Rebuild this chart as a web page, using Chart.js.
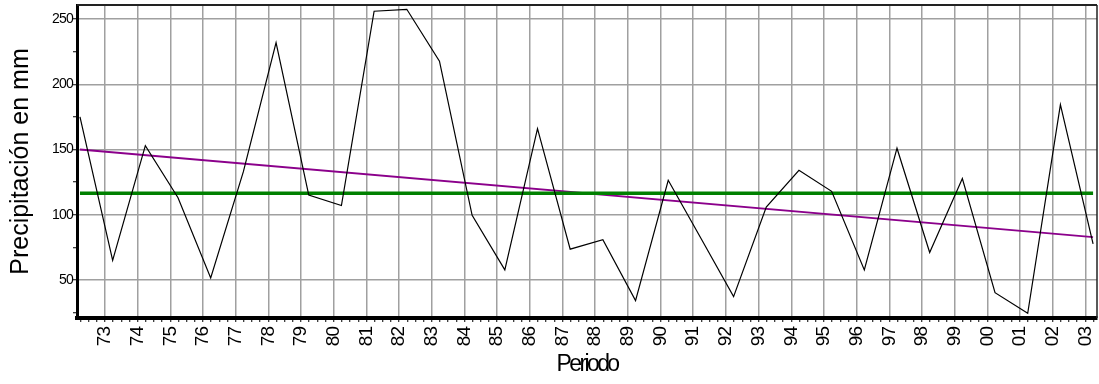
<!DOCTYPE html>
<html><head><meta charset="utf-8">
<script src="https://cdn.jsdelivr.net/npm/chart.js@4.4.1/dist/chart.umd.min.js"></script>
<style>html,body{margin:0;padding:0;background:#fff;}#wrap{width:1099px;height:384px;}</style>
</head><body><div id="wrap"><canvas id="c" width="1099" height="384"></canvas></div>
<script>
// ---- data ----
const years = [1972,1973,1974,1975,1976,1977,1978,1979,1980,1981,1982,1983,1984,1985,1986,1987,1988,1989,1990,1991,1992,1993,1994,1995,1996,1997,1998,1999,2000,2001,2002,2003];
const precipitation = [175,65,153,113,51.5,133,232,115,107,256,257.5,217.7,99.5,57.7,166,73.6,80.8,34.1,126.4,82,37.2,105.9,134,117.9,57.7,151,71,127.7,40.2,24.4,184.4,77.7];
const meanValue = 116.4;
const trendValues = [150, 82.8]; // regression line at first and last year
const xTickYears = [1973,1974,1975,1976,1977,1978,1979,1980,1981,1982,1983,1984,1985,1986,1987,1988,1989,1990,1991,1992,1993,1994,1995,1996,1997,1998,1999,2000,2001,2002,2003];
const xTickLabels = ['73','74','75','76','77','78','79','80','81','82','83','84','85','86','87','88','89','90','91','92','93','94','95','96','97','98','99','00','01','02','03'];
const yTickValues = [50,100,150,200,250];
const yTickLabels = ['50','100','150','200','250'];

// ---- layout constants ----
const pointOffset = 0.235;
const xMin = 1972.144, xMax = 2003.355;
const yMin = 20.8, yMax = 260.8;

Chart.defaults.font.family = "'Liberation Sans', Arial, sans-serif";
Chart.defaults.color = '#000';

const mainData = years.map((y, i) => ({x: y + pointOffset, y: precipitation[i]}));
const first = years[0] + pointOffset, last = years[years.length - 1] + pointOffset;
const meanData = [{x: first, y: meanValue}, {x: last, y: meanValue}];
const trendData = [{x: first, y: trendValues[0]}, {x: last, y: trendValues[1]}];

function spaced(fn, spacing) {
  return function (...args) {
    const ctx = this.ctx;
    ctx.save();
    ctx.letterSpacing = spacing;
    fn.apply(this, args);
    ctx.restore();
  };
}

const framePlugin = {
  id: 'frame',
  afterLayout(chart) {
    const x = chart.scales.x, y = chart.scales.y;
    if (!x._spaced) {
      const px = Object.getPrototypeOf(x);
      x.drawTitle = spaced(px.drawTitle, '-2.6px');
      x.drawLabels = spaced(px.drawLabels, '-1px');
      x._spaced = true;
    }
    if (!y._spaced) {
      const py = Object.getPrototypeOf(y);
      y.drawLabels = spaced(py.drawLabels, '-0.8px');
      y._spaced = true;
    }
  },
  afterDraw(chart) {
    const {ctx, chartArea: a} = chart;
    ctx.save();
    ctx.strokeStyle = '#222';
    ctx.lineWidth = 2;
    ctx.beginPath(); ctx.moveTo(a.left, a.top); ctx.lineTo(a.right, a.top); ctx.stroke();
    ctx.lineWidth = 1.5;
    ctx.beginPath(); ctx.moveTo(a.right, a.top); ctx.lineTo(a.right, a.bottom); ctx.stroke();
    ctx.restore();
  }
};

new Chart(document.getElementById('c'), {
  type: 'line',
  data: {
    datasets: [
      {data: mainData, borderColor: '#000', borderWidth: 1.2, pointRadius: 0, tension: 0},
      {data: meanData, borderColor: '#008000', borderWidth: 3.5, pointRadius: 0},
      {data: trendData, borderColor: '#8B008B', borderWidth: 1.8, pointRadius: 0}
    ]
  },
  options: {
    responsive: false,
    animation: false,
    layout: {padding: {top: 5, right: 2, left: 0, bottom: 0}},
    plugins: {legend: {display: false}, tooltip: {enabled: false}},
    scales: {
      x: {
        type: 'linear', min: xMin, max: xMax,
        afterBuildTicks(s) {
          const t = [];
          for (let q = Math.ceil(xMin * 4); q <= Math.floor(xMax * 4); q++) t.push({value: q / 4});
          s.ticks = t;
        },
        afterFit(s) { s.height = 66; s.paddingLeft = 0; s.paddingRight = 0; },
        ticks: {
          autoSkip: false, minRotation: 90, maxRotation: 90, padding: 5,
          font: {size: 19},
          callback(v) { const i = xTickYears.indexOf(v); return i >= 0 ? xTickLabels[i] : ''; }
        },
        grid: {
          color: c => (c.tick && xTickYears.includes(c.tick.value)) ? '#a0a0a0' : 'rgba(0,0,0,0)',
          lineWidth: 1.5, tickColor: '#000', tickLength: 4, tickWidth: 1
        },
        border: {display: true, color: '#000', width: 4},
        title: {display: true, text: 'Periodo', font: {size: 23}, padding: {top: 0, bottom: 6}}
      },
      y: {
        type: 'linear', min: yMin, max: yMax,
        afterBuildTicks(s) {
          const t = [];
          for (let v = 25; v <= 250; v += 12.5) t.push({value: v});
          s.ticks = t;
        },
        afterFit(s) { s.width = 77; s.paddingTop = 0; s.paddingBottom = 0; },
        ticks: {
          padding: 0, font: {size: 14},
          callback(v) { const i = yTickValues.indexOf(v); return i >= 0 ? yTickLabels[i] : ''; }
        },
        grid: {
          color: c => (c.tick && yTickValues.includes(c.tick.value)) ? '#a0a0a0' : 'rgba(0,0,0,0)',
          lineWidth: 1.5, tickColor: '#000', tickLength: 4, tickWidth: 1
        },
        border: {display: true, color: '#000', width: 3},
        title: {display: true, text: 'Precipitación en mm', font: {size: 25}, padding: {top: 6, bottom: 0}}
      }
    }
  },
  plugins: [framePlugin]
});
</script>
</body></html>
